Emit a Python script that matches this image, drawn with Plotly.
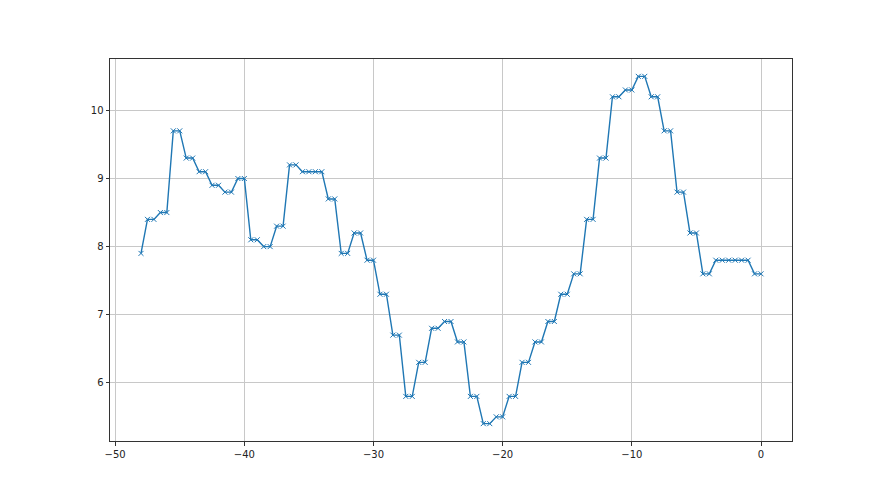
import plotly.graph_objects as go

x_values = [-48.0] + [v for k in range(1, 49) for v in (-48 + k - 0.5, -48 + k)]

first_value = [7.9]
pair_values = [8.4, 8.5, 9.7, 9.3, 9.1, 8.9, 8.8, 9.0, 8.1, 8.0,
               8.3, 9.2, 9.1, 9.1, 8.7, 7.9, 8.2, 7.8, 7.3, 6.7,
               5.8, 6.3, 6.8, 6.9, 6.6, 5.8, 5.4, 5.5, 5.8, 6.3,
               6.6, 6.9, 7.3, 7.6, 8.4, 9.3, 10.2, 10.3, 10.5, 10.2,
               9.7, 8.8, 8.2, 7.6, 7.8, 7.8, 7.8, 7.6]
y_values = first_value + [v for p in pair_values for v in (p, p)]

x_ticks = [-50, -40, -30, -20, -10, 0]
y_ticks = [6, 7, 8, 9, 10]

fig = go.Figure()
fig.add_trace(go.Scatter(
    x=x_values, y=y_values, mode="lines+markers",
    line=dict(color="#1f77b4", width=1.4),
    marker=dict(symbol="x-thin", size=5, line=dict(color="#1f77b4", width=1)),
    showlegend=False,
))

ymin, ymax = min(y_values), max(y_values)
ypad = (ymax - ymin) * 0.05
xmin, xmax = min(x_values), max(x_values)
xpad = (xmax - xmin) * 0.05

axis_common = dict(
    showline=True, mirror=True, linecolor="#333333", linewidth=1,
    ticks="outside", ticklen=3.5, tickwidth=0.8, tickcolor="#333333",
    showgrid=True, gridcolor="#c8c8c8", gridwidth=0.8, zeroline=False,
    tickfont=dict(family="DejaVu Sans", size=10, color="#222222"),
)

fig.update_layout(
    width=872, height=487,
    margin=dict(l=102, r=88, t=51, b=54),
    paper_bgcolor="white", plot_bgcolor="white",
    xaxis=dict(range=[xmin - xpad, xmax + xpad], tickvals=x_ticks, **axis_common),
    yaxis=dict(range=[ymin - ypad, ymax + ypad], tickvals=y_ticks, **axis_common),
)

fig.write_html("out.html")
